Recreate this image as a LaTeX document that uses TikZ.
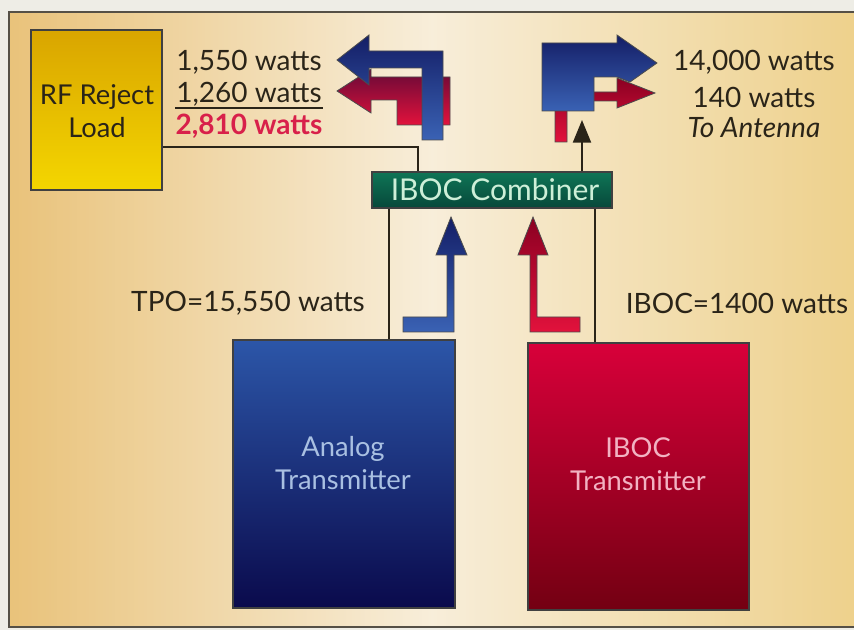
\documentclass[tikz,border=0pt]{standalone}
\usepackage{fontspec}
\setmainfont{Lato}
\usetikzlibrary{arrows.meta,fadings}
\definecolor{ink}{HTML}{2A2418}
\definecolor{bgout}{HTML}{EEEDE6}
\definecolor{goldL}{HTML}{E2AC48}
\definecolor{creamM}{HTML}{F8EEDA}
\definecolor{goldR}{HTML}{E9C263}
\definecolor{rfTop}{HTML}{D9A500}
\definecolor{rfBot}{HTML}{F4D600}
\definecolor{combTop}{HTML}{0F7556}
\definecolor{combBot}{HTML}{07483A}
\definecolor{combTxt}{HTML}{CDEFD8}
\definecolor{anaTop}{HTML}{2C56A8}
\definecolor{anaBot}{HTML}{0A0A4C}
\definecolor{anaTxt}{HTML}{A9C0E2}
\definecolor{ibTop}{HTML}{D8003A}
\definecolor{ibBot}{HTML}{730012}
\definecolor{ibTxt}{HTML}{F2B2C2}
\definecolor{sumred}{HTML}{D8204A}
\definecolor{arBlueT}{HTML}{141E66}
\definecolor{arBlueB}{HTML}{3A62B4}
\definecolor{arRedT}{HTML}{8A0022}
\definecolor{arRedB}{HTML}{E2123C}
\tikzset{
  txt/.style={inner sep=0pt, text=ink, font=\fontsize{21}{25}\selectfont, align=center},
  boxnode/.style={rectangle, inner sep=0pt, draw=black!75, line width=0.8pt},
  boxtxt/.style={inner sep=0pt, align=center, font=\fontsize{20.5}{24.5}\selectfont},
  conn/.style={draw=ink, line width=1.6pt},
  sigline/.style={draw=black!70, line width=0.6pt},
}
\begin{document}
\begin{tikzpicture}[x=0.75pt,y=-0.75pt]
\useasboundingbox (0,0) rectangle (854,630);
\fill[bgout] (0,0) rectangle (854,630);
\shade[left color=goldL, right color=goldR, middle color=creamM] (9,12) rectangle (854,627);
\shade[top color=creamM, bottom color=creamM, middle color=creamM, opacity=0.35] (9,12) rectangle (854,627);
\draw[ink!80, line width=1.3pt] (854,12) -- (9,12) -- (9,627) -- (854,627);

% boxes
\node[boxnode, minimum width=98.25pt, minimum height=120pt, top color=rfTop, bottom color=rfBot]
  (rf) at (96.5,110) {};
\node[boxnode, minimum width=180pt, minimum height=27pt, top color=combTop, bottom color=combBot]
  (comb) at (492,190) {};
\node[boxnode, minimum width=166.5pt, minimum height=201pt, top color=anaTop, bottom color=anaBot]
  (ana) at (344,474) {};
\node[boxnode, minimum width=165.75pt, minimum height=200.25pt, top color=ibTop, bottom color=ibBot]
  (ibc) at (638.5,476.5) {};
\node[boxtxt, text=ink] (rfT) at (97,111) {RF Reject\\Load};
\node[boxtxt, text=combTxt, font=\fontsize{22.5}{25}\selectfont] (combT) at (495,190) {IBOC Combiner};
\node[boxtxt, text=anaTxt] (anaT) at (343,463) {Analog\\Transmitter};
\node[boxtxt, text=ibTxt] (ibcT) at (638,464) {IBOC\\Transmitter};

% connectors
\coordinate (ant) at (582,120);
\draw[conn] (rf.east |- 0,147) -| (comb.north -| 418,0);
\draw[conn] (ana.north -| 389,0) -- (comb.south -| 389,0);
\draw[conn] (ibc.north -| 595,0) -- (comb.south -| 595,0);
\draw[conn, -{Triangle[length=17pt,width=13.5pt]}] (comb.north -| 582,0) -- (ant);

% labels
\node[txt] (l1) at (249,62) {1,550 watts};
\node[txt] (l2) at (249,94) {1,260 watts};
\node[txt, text=sumred, font=\fontsize{21}{25}\bfseries] (l3) at (249,126) {2,810 watts};
\draw[ink, line width=1.1pt] (l3.west |- 0,108) -- (l3.east |- 0,108);
\node[txt] (o1) at (754,62) {14,000 watts};
\node[txt] (o2) at (754,97) {140 watts};
\node[txt, font=\fontsize{21}{25}\itshape] (o3) at (754,128) {To Antenna};
\node[txt] (tpo) at (248,303) {TPO=15,550 watts};
\node[txt] (ibp) at (737,303) {IBOC=1400 watts};

% middle signal arrows
\shadedraw[sigline, top color=arBlueT, bottom color=arBlueB]
  (403,317) -- (447,317) -- (447,255) -- (436,255) -- (451,217) -- (467,255) -- (454,255) -- (454,332) -- (403,332) -- cycle;
\shadedraw[sigline, top color=arRedT, bottom color=arRedB]
  (530,332) -- (530,255) -- (518,255) -- (533,217) -- (548,255) -- (537,255) -- (537,317) -- (580,317) -- (580,332) -- cycle;

% reject arrows (top left)
\shadedraw[sigline, top color=arRedT!70!arBlueT, bottom color=arRedB]
  (337,91) -- (371,69) -- (371,77) -- (450,77) -- (450,125) -- (397,125) -- (397,100) -- (371,100) -- (371,113) -- cycle;
\shadedraw[sigline, top color=arBlueT, bottom color=arBlueB]
  (337,60) -- (369,35) -- (369,51) -- (443,51) -- (443,140) -- (422,140) -- (422,68) -- (369,68) -- (369,85) -- cycle;

% output arrows (top right)
\shadedraw[sigline, top color=arRedT, bottom color=arRedB]
  (555,142) -- (555,92) -- (617,92) -- (617,78) -- (655,93) -- (617,108) -- (617,101) -- (567,101) -- (567,142) -- cycle;
\shadedraw[sigline, top color=arBlueT, bottom color=arBlueB]
  (542,43) -- (617,43) -- (617,35) -- (657,63) -- (630,82) -- (617,77) -- (594,77) -- (594,111) -- (542,111) -- cycle;
\end{tikzpicture}
\end{document}
